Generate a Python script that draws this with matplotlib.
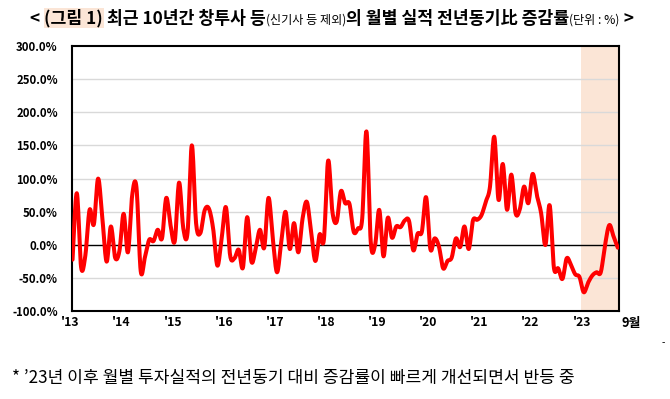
import numpy as np
import matplotlib
matplotlib.use("Agg")
import matplotlib.pyplot as plt

plt.rcParams['font.family'] = ['Noto Sans CJK KR', 'DejaVu Sans']

#~~~~~~~~~~~~~~~~~~~~~~~~~~~~~~~~~~~~~Data~~~~~~~~~~~~~~~~~~~~~~~~~~~~~~~~~~~~~~

# monthly yoy change (%), Jan 2013 - Sep 2023
rate = [-22, 78, -33, -16, 53, 31, 100, 40, -25, 28, -19, -9,
        47, -11, 75, 87, -39, -18, 8, 6, 23, 10, 71, 30,
        6, 94, 25, 19, 150, 33, 18, 52, 55, 25, -31, 10,
        57, -16, -20, -7, -34, 42, -25, -5, 23, -4, 71, 10,
        -41, 5, 50, -6, 33, -11, 40, 65, 20, -24, 16, 8,
        127, 50, 35, 81, 63, 62, 20, 25, 40, 171, 5, -1,
        53, -17, 41, 11, 28, 27, 37, 36, -8, 17, 20, 72,
        -6, 10, -2, -35, -24, -19, 10, -3, 28, -6, 37, 38,
        45, 65, 88, 163, 68, 122, 53, 106, 48, 54, 88, 63,
        107, 75, 48, 0, 60, -34, -35, -51, -20, -30, -44, -48,
        -71, -57, -46, -41, -41, 0, 30, 13, -4]

year_labels = ["'13", "'14", "'15", "'16", "'17", "'18", "'19", "'20", "'21", "'22", "'23"]
last_label = "9월"
yticks = [-100, -50, 0, 50, 100, 150, 200, 250, 300]

months = np.arange(len(rate))
rate = np.array(rate, dtype=float)

# smoothed line like the excel one (catmull-rom)
def smooth(x, y, n=12):
    px = np.concatenate([[x[0]], x, [x[-1]]])
    py = np.concatenate([[y[0]], y, [y[-1]]])
    t = np.linspace(0, 1, n, endpoint=False)
    xs = []
    ys = []
    for k in range(len(x) - 1):
        for p, out in ((px, xs), (py, ys)):
            p0, p1, p2, p3 = p[k], p[k + 1], p[k + 2], p[k + 3]
            out.extend(0.5 * (2 * p1 + (-p0 + p2) * t + (2 * p0 - 5 * p1 + 4 * p2 - p3) * t ** 2
                              + (-p0 + 3 * p1 - 3 * p2 + p3) * t ** 3))
    xs.append(x[-1])
    ys.append(y[-1])
    return np.array(xs), np.array(ys)

sx, sy = smooth(months.astype(float), rate)

#~~~~~~~~~~~~~~~~~~~~~~~~~~~~~~~~~~~~~Plot~~~~~~~~~~~~~~~~~~~~~~~~~~~~~~~~~~~~~~

fig = plt.figure(figsize=(6.7, 3.99), dpi=100)
ax = fig.add_axes([0.107, 0.2193, 0.817, 0.6662])

ax.axvspan(119.3, 140, color="#FBE5D6", zorder=0, lw=0)
for v in yticks[1:-1]:
    if v != 0:
        ax.axhline(v, color="#D9D9D9", lw=1.0, zorder=1)
ax.axhline(0, color="black", lw=1.0, zorder=2)
ax.plot(sx, sy, color="#FF0000", lw=2.9, zorder=3, solid_capstyle="round")

ax.set_xlim(-0.2, 128.3)
ax.set_ylim(-100, 300)
ax.set_yticks(yticks)
ax.set_yticklabels(["%.1f%%" % v for v in yticks], fontsize=8.2, fontweight="bold")
ax.tick_params(axis="y", length=0, pad=10)
ax.set_xticks([])
for s in ax.spines.values():
    s.set_linewidth(1.5)

for k, lab in enumerate(year_labels):
    ax.text(12 * k - 0.5, -0.043, lab, transform=ax.get_xaxis_transform(),
            ha="center", va="center", fontsize=8.8, fontweight="bold", clip_on=False)
ax.text(131.2, -0.043, last_label, transform=ax.get_xaxis_transform(),
        ha="center", va="center", fontsize=9.3, fontweight="bold", clip_on=False)

#~~~~~~~~~~~~~~~~~~~~~~~~~~~~~~~~~~~~~Title~~~~~~~~~~~~~~~~~~~~~~~~~~~~~~~~~~~~~

parts = [("< ", 12.4, "bold", None),
         ("(그림 1)", 12.4, "bold", "#FBE5D6"),
         (" 최근 10년간 창투사 등", 12.4, "bold", None),
         ("(신기사 등 제외)", 8.7, "normal", None),
         ("의 월별 실적 전년동기比 증감률", 12.4, "bold", None),
         ("(단위 : %)", 8.7, "normal", None),
         (" >", 12.4, "bold", None)]

renderer = fig.canvas.get_renderer()
W, H = fig.bbox.width, fig.bbox.height
texts = []
for s, size, weight, bg in parts:
    t = fig.text(0, 0.5, s, fontsize=size, fontweight=weight, va="baseline")
    texts.append(t)
widths = [t.get_window_extent(renderer).width for t in texts]
x = 332 - sum(widths) / 2
base_y = 1 - 23.5 / H
for t, w, p in zip(texts, widths, parts):
    t.set_position((x / W, base_y))
    if p[3] is not None:
        t.set_bbox(dict(facecolor=p[3], edgecolor="none", pad=0.5))
    x += w

#~~~~~~~~~~~~~~~~~~~~~~~~~~~~~~~~~~~~~Note~~~~~~~~~~~~~~~~~~~~~~~~~~~~~~~~~~~~~~

fig.text(12 / W, 1 - 378 / H, "* ’23년 이후 월별 투자실적의 전년동기 대비 증감률이 빠르게 개선되면서 반등 중",
         fontsize=12.3, va="center", ha="left")
fig.text(663 / W, 1 - 343 / H, "-", fontsize=7, va="center", ha="center")

fig.savefig("out.png", dpi=100)
